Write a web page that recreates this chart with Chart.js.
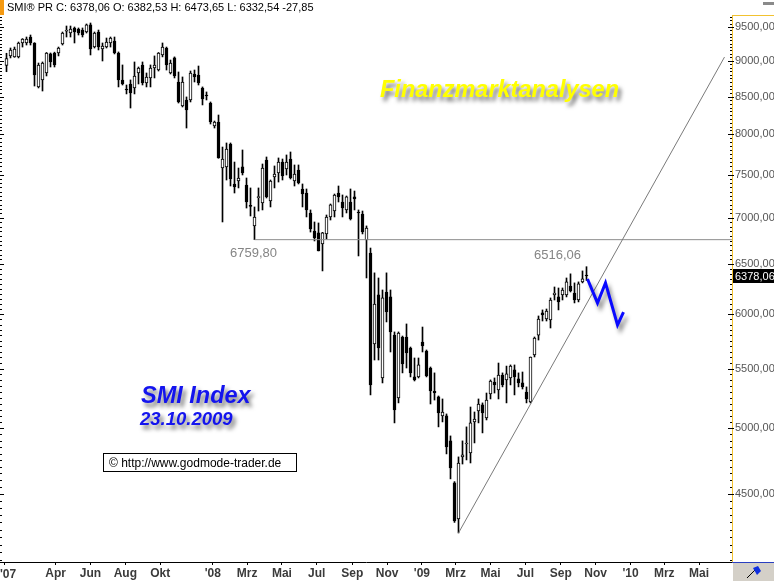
<!DOCTYPE html>
<html>
<head>
<meta charset="utf-8">
<title>SMI Index 23.10.2009</title>
<script src="https://cdn.jsdelivr.net/npm/chart.js@4.4.0/dist/chart.umd.min.js"></script>
<style>
  html, body { margin: 0; padding: 0; background: #fff; }
  #wrap { position: relative; width: 774px; height: 581px; }
</style>
</head>
<body>
<div id="wrap"><canvas id="smiChart" width="774" height="581"></canvas></div>
<script>
// Weekly candles of the SMI, first week ends 05.01.2007, last week ends 23.10.2009
const weekStart = '2007-01-05';

const opens = [8935,9070,9056,9056,9260,9260,9349,9260,8631,8728, 8826,9099,9113,9113,9245,9435,9409,9485,9470,9454,
  9424,9531,9200,9424,9171,9200,9260,9289,9113,8728, 8595,8672,8617,8826,8940,8686,8756,8897,8868,9084,
  9186,8826,9041,8700,8372,8453,8453,8812,8798,8617, 8520,8412,8108,8160,7581,7594,7878,7390,7425,7594,
  7378,7140,6910,7230,7169,7679,7192,7473,7521,7654, 7569,7691,7425,7557,7331,7284,7055,6854,6833,6713,
  6822,7010,7077,7284,7180,7089,7180,7238,7066,7043, 6756,6617,5721,6188,5418,6217,6168,5803,5247,5785,
  5785,5684,5427,5427,5739,5657,5505,5303,5256,5099, 5099,4899,4581,4324,4775,4875,4805,5050,5140,5189,
  5082,5281,5383,5315,5444,5401,5418,5488,5410,5375, 5298,5214,5621,5803,6012,5954,5945,6188,6168,6188,
  6188,6277,6207,6138,6318,6382.53];
const highs = [9109,9186,9200,9274,9325,9349,9379,9265,8968,8983, 9120,9113,9125,9200,9424,9515,9515,9500,9485,9485,
  9546,9561,9424,9454,9260,9334,9349,9349,9128,8940, 8658,8728,8983,8911,8983,8826,8940,9070,9120,9260,
  9200,9011,9056,8840,8770,8494,8854,8868,8925,8631, 8562,8426,8173,8252,7840,7891,7891,7654,7581,7803,
  7461,7343,7123,7343,7630,7716,7437,7606,7704,7691, 7741,7778,7618,7618,7390,7331,7089,6954,6943,6840,
  7032,7157,7272,7366,7261,7249,7331,7307,7089,7077, 6910,6670,6410,6358,6237,6410,6237,5832,5832,5794,
  5907,5693,5594,5594,5878,5666,5514,5462,5264,5239, 5115,4938,4590,4775,4899,5010,5172,5131,5239,5206,
  5289,5401,5418,5549,5462,5522,5532,5532,5462,5470, 5341,5603,5785,5983,6041,6050,6158,6267,6257,6257,
  6358,6400,6308,6318,6430,6473.65];
const lows = [8844,9041,9050,9041,9200,9230,9230,8644,8617,8575, 8784,8911,8911,9070,9230,9349,9349,9260,9379,9349,
  9409,9084,9186,9157,8997,9186,9200,9099,8631,8658, 8535,8345,8535,8672,8658,8631,8631,8756,8854,9056,
  8868,8812,8756,8412,8359,8082,8426,8700,8658,8386, 8453,8134,8082,7700,6954,7437,7366,7284,7343,7497,
  7111,7021,6760,7077,7089,7226,7123,7343,7413,7437, 7497,7449,7366,7390,7123,7010,6843,6746,6639,6430,
  6767,6976,7010,7180,7010,7055,6976,7089,6586,6822, 6358,5273,5576,5576,5375,5926,5648,5042,5206,5462,
  5505,5427,5392,5418,5648,5427,5197,5230,5010,5050, 4798,4610,4300,4228,4721,4752,4729,4883,5042,4962,
  5066,5239,5289,5239,5341,5206,5358,5273,5341,5323, 5206,5206,5603,5757,5935,5935,5869,6138,6041,6138,
  6168,6217,6109,6119,6308,6332.54];
const closes = [9031,9157,9171,9260,9319,9319,9260,8798,8940,8968, 9113,8983,8940,9186,9409,9445,9470,9424,9409,9379,
  9531,9171,9409,9200,9215,9274,9334,9113,8728,8672, 8589,8548,8784,8897,8686,8770,8897,8940,9113,9200,
  8940,8968,8784,8426,8700,8319,8826,8770,8686,8466, 8507,8160,8160,7704,7691,7815,7449,7355,7461,7521,
  7180,7130,7010,7240,7581,7238,7425,7509,7654,7485, 7654,7461,7509,7401,7273,7089,6876,6778,6639,6833,
  7010,7146,7261,7238,7111,7238,6987,7215,7055,6843, 6887,5358,6099,5684,6158,6021,5832,5148,5822,5541,
  5639,5462,5401,5532,5703,5436,5306,5290,5123,5131, 4852,4691,4310,4729,4790,4880,5042,5074,5197,5123,
  5230,5392,5358,5444,5358,5453,5522,5427,5375,5341, 5239,5603,5776,5954,5993,6031,6138,6207,6119,6237,
  6318,6227,6138,6298,6348,6378.06];
const weekChange = -27.85;

// x axis labels (first day of the month)
const tickDates = ['2007-01-01','2007-04-01','2007-06-01','2007-08-01','2007-10-01',
  '2008-01-01','2008-03-01','2008-05-01','2008-07-01','2008-09-01','2008-11-01',
  '2009-01-01','2009-03-01','2009-05-01','2009-07-01','2009-09-01','2009-11-01',
  '2010-01-01','2010-03-01','2010-05-01'];
const tickLabels = ["'07",'Apr','Jun','Aug','Okt',"'08",'Mrz','Mai','Jul','Sep','Nov',
  "'09",'Mrz','Mai','Jul','Sep','Nov',"'10",'Mrz','Mai'];
const yTicks = [4500,5000,5500,6000,6500,7000,7500,8000,8500,9000,9500];

// drawn lines, in weeks / index points
const supportLevel = 6759.80;
const supportFrom = 62;
const trendWeeks = [113, 179.5];
const trendValues = [4228, 9054];
const arrowWeeks = [145.25, 147.75, 149.75, 152.75, 154.25];
const arrowValues = [6348, 6109, 6308, 5897, 6021];

const FONT = '"Liberation Sans", Arial, sans-serif';
const xMin = -1.625, xMax = 181.375;

function weekOf(dateStr) {
    return (Date.parse(dateStr) - Date.parse(weekStart)) / (7 * 864e5);
}
function fmt(v) {
    return v.toFixed(2).replace('.', ',');
}

const weeks = closes.map((c, i) => i);
const wickData = weeks.map(i => ({ x: i, y: [lows[i], highs[i]] }));
const bodyData = weeks.map(i => ({ x: i, y: [Math.min(opens[i], closes[i]), Math.max(opens[i], closes[i])] }));
const bodyColors = weeks.map(i => closes[i] >= opens[i] ? '#ffffff' : '#000000');

const last = closes.length - 1;
const header = 'SMI\u00AE PR C: ' + fmt(closes[last]) + ' O: ' + fmt(opens[last]) + ' H: ' + fmt(highs[last]) +
    ' L: ' + fmt(lows[last]) + ' ' + fmt(weekChange);

const overlay = {
    id: 'overlay',
    beforeDatasetDraw(chart, args) {
        if (args.index === 4) {
            const c = chart.ctx;
            c.save();
            c.shadowColor = 'rgba(0,0,0,0.45)';
            c.shadowBlur = 4;
            c.shadowOffsetX = 3;
            c.shadowOffsetY = 5;
        }
    },
    afterDatasetDraw(chart, args) {
        if (args.index === 4) chart.ctx.restore();
    },
    afterDraw(chart) {
        const c = chart.ctx;
        const ys = chart.scales.y;
        c.save();

        // header line
        c.fillStyle = '#f59a12';
        c.fillRect(0, 0, 4, 15);
        c.fillStyle = '#000';
        c.font = '11px ' + FONT;
        c.textBaseline = 'alphabetic';
        c.fillText(header, 7, 11);
        c.fillStyle = '#8a8a8a';
        c.fillRect(763, 2, 11, 3);

        // first x label sits on the left edge
        c.fillStyle = '#3a3a3a';
        c.font = 'bold 12px ' + FONT;
        c.fillText(tickLabels[0], 0, 578);

        // axis frame bits
        c.fillStyle = '#f2c230';
        c.fillRect(732, 15, 42, 1);
        c.fillRect(732, 15, 1, 548);

        // small tick marks every 50 points, both sides
        c.fillStyle = '#000';
        for (let v = 4050; v <= 9650; v += 50) {
            const y = Math.round(ys.getPixelForValue(v));
            const major = v % 500 === 0;
            if (major) {
                c.fillRect(728, y, 6, 1);
                c.fillRect(0, y, 4, 1);
            } else {
                c.fillRect(730, y, 2, 1);
                c.fillRect(0, y, 2, 1);
            }
        }

        // last price tag
        const yc = Math.round(ys.getPixelForValue(closes[last]));
        c.fillStyle = '#000';
        c.fillRect(733, yc - 7, 41, 14);
        c.fillStyle = '#fff';
        c.font = '11px ' + FONT;
        c.fillText(fmt(closes[last]), 735, yc + 4);

        // level labels
        c.fillStyle = '#858585';
        c.font = '13px ' + FONT;
        c.fillText(fmt(supportLevel), 230, 257);
        c.fillText('6516,06', 534, 259);

        // bottom right button
        c.fillStyle = '#d4d0c8';
        c.fillRect(733, 563, 41, 18);
        c.fillStyle = '#2a3fc0';
        c.fillRect(732, 562, 42, 1);
        c.strokeStyle = '#000';
        c.lineWidth = 1;
        c.beginPath();
        c.moveTo(747, 578);
        c.lineTo(755, 570);
        c.stroke();
        c.fillStyle = '#1030e0';
        c.beginPath();
        c.moveTo(753, 568);
        c.lineTo(758, 566);
        c.lineTo(761, 571);
        c.lineTo(757, 575);
        c.closePath();
        c.fill();

        // titles with soft shadow
        c.shadowColor = 'rgba(0,0,0,0.55)';
        c.shadowBlur = 4;
        c.shadowOffsetX = 3;
        c.shadowOffsetY = 4;
        c.fillStyle = '#ffff00';
        c.font = 'italic bold 23.5px ' + FONT;
        c.fillText('Finanzmarktanalysen', 380, 97);
        c.fillStyle = '#1414ee';
        c.font = 'italic bold 23.5px ' + FONT;
        c.fillText('SMI Index', 141, 403);
        c.font = 'italic bold 18.5px ' + FONT;
        c.fillText('23.10.2009', 140, 425);
        c.shadowColor = 'transparent';

        // source box
        c.fillStyle = '#fff';
        c.fillRect(103, 453, 193, 19);
        c.strokeStyle = '#000';
        c.strokeRect(103.5, 453.5, 193, 18);
        c.fillStyle = '#000';
        c.font = '12px ' + FONT;
        c.fillText('\u00A9 http://www.godmode-trader.de', 109, 467);

        c.restore();
    }
};

new Chart(document.getElementById('smiChart'), {
    type: 'bar',
    data: {
        datasets: [{
            label: 'Range',
            data: wickData,
            backgroundColor: '#000',
            barThickness: 1,
            grouped: false,
            order: 5
        }, {
            label: 'SMI',
            data: bodyData,
            backgroundColor: bodyColors,
            borderColor: '#000',
            borderWidth: 1,
            borderSkipped: false,
            barThickness: 3,
            minBarLength: 1,
            grouped: false,
            order: 4
        }, {
            type: 'line',
            label: 'Unterstuetzung',
            data: [{ x: supportFrom, y: supportLevel }, { x: xMax, y: supportLevel }],
            borderColor: '#8c8c8c',
            borderWidth: 1,
            pointRadius: 0,
            order: 3
        }, {
            type: 'line',
            label: 'Trend',
            data: trendWeeks.map((w, i) => ({ x: w, y: trendValues[i] })),
            borderColor: '#7a7a7a',
            borderWidth: 1,
            pointRadius: 0,
            order: 2
        }, {
            type: 'line',
            label: 'Prognose',
            data: arrowWeeks.map((w, i) => ({ x: w, y: arrowValues[i] })),
            borderColor: '#0a0aff',
            borderWidth: 3,
            pointRadius: 0,
            tension: 0,
            order: 1
        }]
    },
    options: {
        responsive: false,
        animation: false,
        devicePixelRatio: 1,
        layout: { padding: { top: 15, left: 0, right: 0, bottom: 0 } },
        plugins: {
            legend: { display: false },
            tooltip: { enabled: false }
        },
        scales: {
            x: {
                type: 'linear',
                position: 'bottom',
                offset: false,
                min: xMin,
                max: xMax,
                afterBuildTicks: function (scale) {
                    scale.ticks = tickDates.map(d => ({ value: weekOf(d) }));
                },
                afterFit: function (scale) {
                    scale.height = 19;
                    scale.paddingLeft = 0;
                    scale.paddingRight = 0;
                },
                ticks: {
                    autoSkip: false,
                    maxRotation: 0,
                    padding: 1,
                    color: '#3a3a3a',
                    font: { family: FONT, size: 12, weight: 'bold' },
                    callback: function (value, index) {
                        return index === 0 ? '' : tickLabels[index];
                    }
                },
                grid: {
                    display: true,
                    offset: false,
                    drawOnChartArea: false,
                    drawTicks: true,
                    tickLength: 3,
                    color: '#000'
                },
                border: { display: true, color: '#000', width: 1 }
            },
            y: {
                type: 'logarithmic',
                position: 'right',
                min: 4036,
                max: 9684,
                afterBuildTicks: function (scale) {
                    scale.ticks = yTicks.map(v => ({ value: v }));
                },
                afterFit: function (scale) {
                    scale.width = 42;
                    scale.paddingTop = 0;
                    scale.paddingBottom = 0;
                },
                ticks: {
                    autoSkip: false,
                    padding: 3,
                    color: '#555',
                    font: { family: FONT, size: 11 },
                    callback: function (value) {
                        return fmt(value);
                    }
                },
                grid: { display: false, drawTicks: false },
                border: { display: true, color: '#f2c230', width: 1 }
            }
        }
    },
    plugins: [overlay]
});
</script>
</body>
</html>
